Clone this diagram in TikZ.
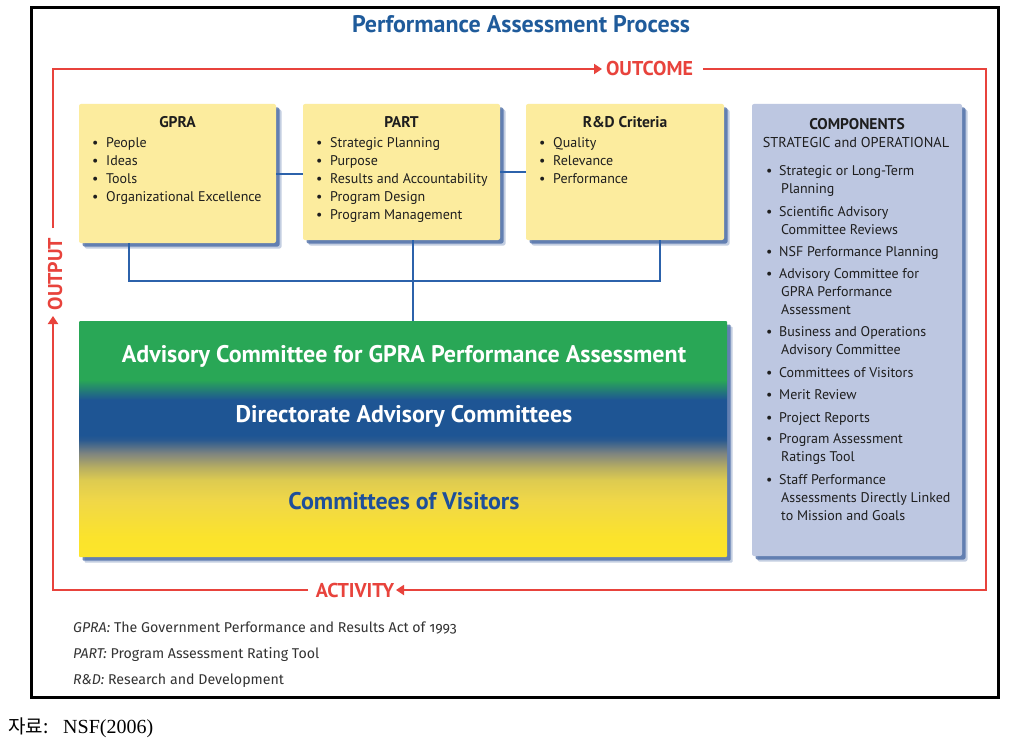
\documentclass[tikz,border=0pt]{standalone}
\usepackage{fontspec}
\setmainfont{PT Sans}
\newfontfamily\fira{Fira Sans}[Numbers=OldStyle]
\newfontfamily\krfont{Noto Sans CJK KR}
\newfontfamily\lserif{Liberation Serif}
\usetikzlibrary{arrows.meta,shadows}
\definecolor{ttlblue}{HTML}{1F5B9B}
\definecolor{redl}{HTML}{E8433C}
\definecolor{bluel}{HTML}{2C62AB}
\definecolor{yfill}{HTML}{FCEC9E}
\definecolor{cfill}{HTML}{BDC7E1}
\definecolor{shc}{HTML}{3A5E9E}
\definecolor{txt}{HTML}{1E1E1E}
\definecolor{foot}{HTML}{333333}
\definecolor{cvblue}{HTML}{1E4F9A}
\definecolor{ga}{HTML}{FCE52A}
\definecolor{gb}{HTML}{FBE32C}
\definecolor{gc}{HTML}{F0D748}
\definecolor{gd}{HTML}{DDCB50}
\definecolor{ge}{HTML}{B6AD62}
\definecolor{gf}{HTML}{7D8480}
\definecolor{gg}{HTML}{2A5A90}
\definecolor{gh}{HTML}{1E5594}
\definecolor{gi}{HTML}{29A756}
\pgfdeclareverticalshading{advgrad}{100bp}{color(0bp)=(ga); color(25bp)=(ga); color(29.2bp)=(gb); color(37.1bp)=(gc); color(41.3bp)=(gd); color(44.1bp)=(ge); color(47bp)=(gf); color(49.8bp)=(gg); color(50.8bp)=(gh); color(58.3bp)=(gh); color(62.5bp)=(gi); color(75bp)=(gi); color(100bp)=(gi)}
\tikzset{
  boxbase/.style={rounded corners=2pt, inner sep=0pt,
    drop shadow={shadow xshift=5.5pt, shadow yshift=-5.5pt, fill=shc, opacity=.3},
    drop shadow={shadow xshift=3.5pt, shadow yshift=-3.5pt, fill=shc, opacity=.7}},
  ybox/.style={boxbase, fill=yfill},
  cbox/.style={boxbase, fill=cfill},
  bline/.style={draw=bluel, line width=2pt},
  rline/.style={draw=redl, line width=1.8pt},
  rtip/.style={-{Triangle[length=8pt,width=10pt]}},
  rlabel/.style={text=redl, font=\bfseries\fontsize{20}{20}\selectfont, inner sep=0pt},
  head/.style={anchor=base, text=txt, font=\bfseries\fontsize{15.5}{16}\selectfont, inner sep=0pt},
  item/.style={anchor=base west, text=txt, font=\fontsize{14}{16}\selectfont, inner sep=0pt},
  bigtxt/.style={anchor=base, font=\bfseries\fontsize{24}{24}\selectfont, inner sep=0pt},
  foottxt/.style={anchor=base west, text=foot, font=\fira\fontsize{14.2}{14}\selectfont, inner sep=0pt}
}
\begin{document}
\begin{tikzpicture}[x=1pt,y=-1pt]
\useasboundingbox (0,0) rectangle (1014,749);
\fill[white] (0,0) rectangle (1014,749);
\draw[line width=3pt] (31.5,7.5) rectangle (998.5,697);
\node[anchor=base, text=ttlblue, font=\bfseries\fontsize{24}{24}\selectfont, inner sep=0pt] (title) at (521,33) {Performance Assessment Process};

% red loop
\coordinate (c1) at (53,69);
\coordinate (c2) at (986,69);
\coordinate (c3) at (986,590);
\coordinate (c4) at (53,590);
\coordinate (oa) at (602,69);
\coordinate (ob) at (703,69);
\coordinate (aa) at (396,590);
\coordinate (ab) at (308,590);
\coordinate (pa) at (53,316);
\coordinate (pb) at (53,228);
\draw[rline,rtip] (pb) -- (c1) -- (oa);
\draw[rline,rtip] (ob) -- (c2) -- (c3) -- (aa);
\draw[rline,rtip] (ab) -- (c4) -- (pa);
\node[rlabel, anchor=base] (outcome) at (649.5,76) {OUTCOME};
\node[rlabel, anchor=base] (activity) at (355,597) {ACTIVITY};
\node[rlabel, rotate=90] (output) at (55,274) {OUTPUT};

% boxes
\node[ybox, minimum width=197pt, minimum height=139pt] (gpra) at (177.5,173.5) {};
\node[ybox, minimum width=197pt, minimum height=136pt] (part) at (401.5,172) {};
\node[ybox, minimum width=198pt, minimum height=136pt] (rd) at (625,172) {};
\node[cbox, minimum width=210pt, minimum height=452pt] (comp) at (857,330) {};
\node[boxbase, shade, shading=advgrad, rounded corners=1pt, minimum width=648pt, minimum height=236pt] (big) at (403,439) {};

% blue connectors
\coordinate (j1) at (129,281);
\coordinate (j2) at (660,281);
\coordinate (pj) at (413,281);
\draw[bline] (gpra.east) -- (gpra.east -| part.west);
\draw[bline] (part.east) -- (part.east -| rd.west);
\draw[bline] (j1 |- gpra.south) -- (j1) -- (j2) -- (j2 |- rd.south);
\draw[bline] (pj |- part.south) -- (pj |- big.north);

% GPRA
\node[head] (gh) at (177.5,128) {GPRA};
\foreach \yy/\tt in {147/People,165/Ideas,183/Tools,201/Organizational Excellence}{
  \node[item] at (92,\yy) {\textbullet};
  \node[item] at (106,\yy) {\tt};
}
% PART
\node[head] (ph) at (401.5,128) {PART};
\foreach \yy/\tt in {147/Strategic Planning,165/Purpose,183/Results and Accountability,201/Program Design,219/Program Management}{
  \node[item] at (316,\yy) {\textbullet};
  \node[item] at (330,\yy) {\tt};
}
% R&D
\node[head] (rh) at (625,128) {R\&D Criteria};
\foreach \yy/\tt in {147/Quality,165/Relevance,183/Performance}{
  \node[item] at (539,\yy) {\textbullet};
  \node[item] at (553,\yy) {\tt};
}
% components
\node[head] (ch) at (857,129) {COMPONENTS};
\node[head, font=\fontsize{14.3}{16}\selectfont] (cs) at (856,147) {STRATEGIC and OPERATIONAL};
\foreach \yy in {175,216,256,278,336,377,399,422,443,484}{
  \node[item] at (766,\yy) {\textbullet};
}
\foreach \yy/\tt in {175/Strategic or Long-Term,216/Scientific Advisory,256/NSF Performance Planning,278/Advisory Committee for,336/Business and Operations,377/Committees of Visitors,399/Merit Review,422/Project Reports,443/Program Assessment,484/Staff Performance}{
  \node[item] at (779,\yy) {\tt};
}
\foreach \yy/\tt in {193/Planning,234/Committee Reviews,296/GPRA Performance,314/Assessment,354/Advisory Committee,461/Ratings Tool,502/Assessments Directly Linked,520/to Mission and Goals}{
  \node[item] at (781,\yy) {\tt};
}

% big box texts
\node[bigtxt, text=white] (t1) at (404,362) {Advisory Committee for GPRA Performance Assessment};
\node[bigtxt, text=white] (t2) at (404,422) {Directorate Advisory Committees};
\node[bigtxt, text=cvblue] (t3) at (404,509) {Committees of Visitors};

% footnotes
\node[foottxt] (f1) at (73,632) {\itshape GPRA:\upshape{} The Government Performance and Results Act of 1993};
\node[foottxt] (f2) at (73,658) {\itshape PART:\upshape{} Program Assessment Rating Tool};
\node[foottxt] (f3) at (73,684) {\itshape R\&D:\upshape{} Research and Development};

% source
\node[anchor=base west, inner sep=0pt, font=\fontsize{20}{20}\selectfont] (src) at (8,733) {\makebox[55pt][l]{\krfont\fontsize{19}{19}\selectfont 자료:}\lserif NSF(2006)};
\end{tikzpicture}
\end{document}
